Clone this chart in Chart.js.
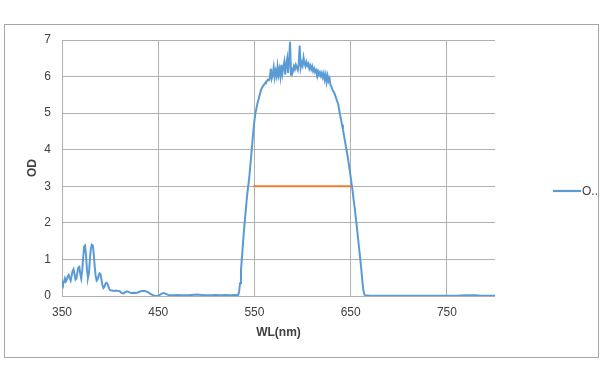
<!DOCTYPE html>
<html>
<head>
<meta charset="utf-8">
<script src="https://cdn.jsdelivr.net/npm/chart.js@4/dist/chart.umd.min.js"></script>
<style>
  html, body { margin: 0; padding: 0; background: #ffffff; }
  #wrap { width: 600px; height: 383px; position: relative; }
</style>
</head>
<body>
<div id="wrap"><canvas id="odChart" width="600" height="383"></canvas></div>
<script>
// Wavelength (nm) and OD values
const wl = [
    350, 351, 352, 353, 354, 355, 356, 357, 358, 359,
    360, 361, 362, 363, 364, 365, 366, 367, 368, 369,
    370, 371, 372, 373, 374, 375, 376, 377, 378, 379,
    380, 381, 382, 383, 384, 385, 386, 387, 388, 389,
    390, 391, 392, 393, 394, 395, 396, 397, 398, 399,
    400, 402, 404, 406, 408, 410, 412, 414, 416, 418,
    420, 422, 424, 426, 428, 430, 432, 434, 436, 438,
    440, 442, 444, 446, 448, 450, 452, 454, 456, 458,
    460, 462, 465, 470, 475, 480, 485, 490, 495, 500,
    505, 510, 515, 520, 525, 530, 533,
    534, 535, 536, 537, 538, 539, 540, 541, 542, 543,
    544, 545, 546, 547, 548, 549, 550, 551, 552, 553,
    554, 555, 556, 557, 558, 559, 560, 561, 562, 563,
    564, 565, 566, 567, 568, 569, 570, 571, 572, 573,
    574, 575, 576, 577, 578, 579, 580, 581, 582, 583,
    584, 585, 586, 587, 588, 589, 590, 591, 592, 593,
    594, 595, 596, 597, 598, 599, 600, 601, 602, 603,
    604, 605, 606, 607, 608, 609, 610, 611, 612, 613,
    614, 615, 616, 617, 618, 619, 620, 621, 622, 623,
    624, 625, 626, 627, 628, 629, 630, 631, 632, 633,
    634, 635, 636, 637, 638, 639, 640, 641, 642, 643,
    644, 645, 646, 647, 648, 649, 650, 651, 652, 653,
    654, 655, 656, 657, 658, 659, 660, 661, 662, 663,
    664, 665, 670, 680, 690, 700, 710, 720, 730, 740,
    750, 760, 770, 780, 785, 790, 800
];
const od = [
    0.40, 0.33, 0.38, 0.48, 0.40, 0.45, 0.55, 0.58, 0.48, 0.42,
    0.55, 0.68, 0.73, 0.60, 0.45, 0.48, 0.65, 0.78, 0.80, 0.60,
    0.48, 0.70, 1.05, 1.35, 1.38, 1.10, 0.70, 0.50, 0.62, 1.00,
    1.30, 1.40, 1.38, 1.15, 0.80, 0.55, 0.42, 0.45, 0.55, 0.62,
    0.60, 0.45, 0.30, 0.22, 0.25, 0.32, 0.36, 0.35, 0.28, 0.20,
    0.16, 0.15, 0.14, 0.15, 0.14, 0.13, 0.08, 0.07, 0.11, 0.13,
    0.10, 0.08, 0.09, 0.08, 0.09, 0.11, 0.13, 0.14, 0.14, 0.12,
    0.09, 0.06, 0.03, 0.01, 0.00, 0.01, 0.04, 0.07, 0.08, 0.06,
    0.03, 0.02, 0.02, 0.03, 0.02, 0.02, 0.03, 0.04, 0.03, 0.02,
    0.02, 0.03, 0.02, 0.03, 0.02, 0.03, 0.03,
    0.10, 0.35, 0.70, 1.05, 1.40, 1.75, 2.05, 2.35, 2.65, 2.90,
    3.10, 3.35, 3.65, 3.95, 4.25, 4.55, 4.80, 5.00, 5.12, 5.25,
    5.35, 5.45, 5.55, 5.65, 5.70, 5.74, 5.78, 5.82, 5.86, 5.88,
    5.92, 5.90, 5.95, 6.22, 5.95, 6.05, 6.25, 5.98, 6.15, 6.02,
    6.28, 6.05, 6.20, 6.00, 6.32, 6.08, 6.25, 6.40, 6.05, 6.35,
    6.50, 6.10, 6.45, 6.95, 6.05, 6.20, 6.15, 6.28, 6.20, 6.32,
    6.25, 6.18, 6.35, 6.85, 6.25, 6.38, 6.30, 6.52, 6.35, 6.28,
    6.40, 6.30, 6.35, 6.22, 6.30, 6.20, 6.28, 6.15, 6.22, 6.12,
    6.18, 6.08, 6.15, 6.05, 6.12, 6.02, 6.10, 5.98, 6.08, 5.92,
    6.05, 5.85, 6.02, 5.88, 5.95, 5.78, 5.72, 5.65, 5.60, 5.55,
    5.48, 5.40, 5.32, 5.25, 5.10, 4.95, 4.82, 4.68, 4.55, 4.40,
    4.25, 4.10, 3.95, 3.80, 3.62, 3.45, 3.25, 3.05, 2.88, 2.65,
    2.45, 2.22, 2.00, 1.75, 1.50, 1.25, 1.00, 0.75, 0.45, 0.20,
    0.06, 0.02, 0.01, 0.01, 0.01, 0.01, 0.01, 0.01, 0.01, 0.01,
    0.01, 0.01, 0.02, 0.02, 0.01, 0.01, 0.01
];

// Orange marker line at OD = 3
const bandWl = [549, 652];
const bandOd = [3, 3];

const xTicks = [350, 450, 550, 650, 750];
const yTicks = [0, 1, 2, 3, 4, 5, 6, 7];

const seriesLabel = 'O..';

// Frame around the whole chart + the right-hand legend entry
const framePlugin = {
    id: 'frame',
    beforeDraw(chart) {
        const ctx = chart.ctx;
        ctx.save();
        ctx.fillStyle = '#ffffff';
        ctx.fillRect(0, 0, chart.width, chart.height);
        ctx.strokeStyle = '#a6a6a6';
        ctx.lineWidth = 1;
        ctx.strokeRect(4.5, 24.5, 594, 333);
        ctx.restore();
    },
    afterDraw(chart) {
        const ctx = chart.ctx;
        const y = (chart.chartArea.top + chart.chartArea.bottom) / 2 + 23;
        ctx.save();
        ctx.strokeStyle = '#5b9bd5';
        ctx.lineWidth = 2.2;
        ctx.beginPath();
        ctx.moveTo(553, y);
        ctx.lineTo(581, y);
        ctx.stroke();
        ctx.fillStyle = '#404040';
        ctx.font = '12px "Liberation Sans", Arial, sans-serif';
        ctx.textBaseline = 'middle';
        ctx.fillText(chart.data.datasets[0].label, 582, y + 1);
        ctx.restore();
    }
};

new Chart(document.getElementById('odChart'), {
    type: 'line',
    data: {
        datasets: [{
            label: seriesLabel,
            data: wl.map((w, i) => ({ x: w, y: od[i] })),
            borderColor: '#5b9bd5',
            borderWidth: 2,
            pointRadius: 0,
            tension: 0,
            fill: false
        }, {
            label: 'band',
            data: bandWl.map((w, i) => ({ x: w, y: bandOd[i] })),
            borderColor: '#ed7d31',
            borderWidth: 2,
            pointRadius: 0,
            fill: false
        }]
    },
    options: {
        responsive: false,
        animation: false,
        layout: { padding: { left: 20, top: 40, right: 105, bottom: 40 } },
        plugins: { legend: { display: false }, tooltip: { enabled: false } },
        scales: {
            x: {
                type: 'linear', min: 350, max: 800,
                afterBuildTicks: s => { s.ticks = xTicks.map(v => ({ value: v })); },
                afterFit: s => { s.height = 47; },
                grid: { color: '#b0b0b0', drawTicks: false },
                border: { display: false },
                ticks: { color: '#404040', padding: 9, font: { family: '"Liberation Sans", Arial', size: 12 }, maxRotation: 0 },
                title: { display: true, text: 'WL(nm)', color: '#404040', padding: { top: 0, bottom: 3 },
                         font: { family: '"Liberation Sans", Arial', size: 12, weight: 'bold' } }
            },
            y: {
                min: 0, max: 7,
                afterBuildTicks: s => { s.ticks = yTicks.map(v => ({ value: v })); },
                afterFit: s => { s.width = 42; },
                grid: { color: '#b0b0b0', drawTicks: false },
                border: { display: false },
                ticks: { color: '#404040', padding: 11, font: { family: '"Liberation Sans", Arial', size: 12 } },
                title: { display: true, text: 'OD', color: '#404040', padding: { top: 5, bottom: 0 },
                         font: { family: '"Liberation Sans", Arial', size: 12, weight: 'bold' } }
            }
        }
    },
    plugins: [framePlugin]
});
</script>
</body>
</html>
